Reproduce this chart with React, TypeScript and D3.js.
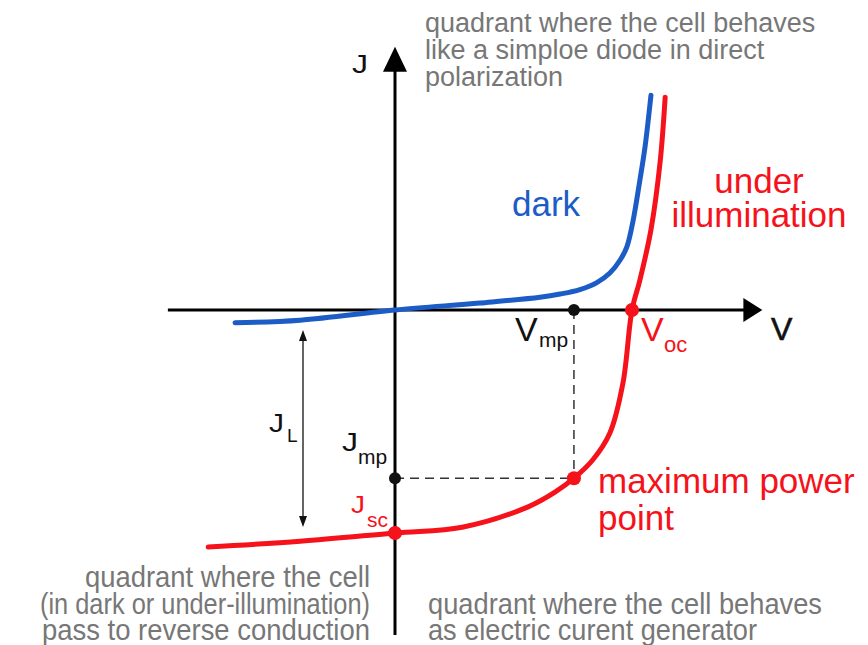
import React from "react";
import * as d3 from "d3";

// Dark J–V characteristic (V in volts, J in mA/cm²)
const darkV = [-0.405, -0.24, 0, 0.215, 0.367, 0.418, 0.468, 0.511, 0.544, 0.57, 0.587, 0.603, 0.62, 0.633, 0.648];
const darkJ = [-2.0, -1.6, 0, 1.1, 2.0, 2.5, 3.2, 4.3, 5.8, 7.85, 9.9, 14.1, 20.4, 25.6, 33.7];

// Illuminated J–V characteristic
const lightV = [-0.473, -0.24, 0, 0.17, 0.337, 0.405, 0.453, 0.501, 0.544, 0.577, 0.6, 0.62, 0.648, 0.671, 0.684];
const lightJ = [-37.2, -36.3, -35.0, -34.1, -30.9, -28.6, -26.4, -23.5, -19.3, -11.5, 0, 4.7, 12.6, 23.1, 33.4];

// Characteristic points
const Voc = 0.6;
const Vmp = 0.453;
const Jsc = -35.0;
const Jmp = -26.4;

// Axis extents (data units)
const vAxisExtent = [-0.575, 0.93];
const jAxisExtent = [-51, 41.3];

const topNote = ["quadrant where the cell behaves", "like a simploe diode in direct", "polarization"];
const leftNote = ["quadrant where the cell", "(in dark or under-illumination)", "pass to reverse conduction"];
const rightNote = ["quadrant where the cell behaves", "as electric curent generator"];

// condensed widths of the bottom notes
const leftNoteWidths = [285, 330, 328];
const rightNoteWidths = [394, 329];

const BLUE = "#1b5cc6";
const RED = "#f5121a";
const GRAY = "#777777";
const SANS = "'Liberation Sans', Arial, sans-serif";

const x = d3.scaleLinear().domain([0, 0.6]).range([395, 632]);
const y = d3.scaleLinear().domain([0, -35]).range([310, 533]);

const line = d3
  .line<[number, number]>()
  .x((d) => x(d[0]))
  .y((d) => y(d[1]))
  .curve(d3.curveCatmullRom.alpha(0.5));

const darkPath = line(darkV.map((v, i) => [v, darkJ[i]]));
const lightPath = line(lightV.map((v, i) => [v, lightJ[i]]));

// Letter J drawn a little wider than the regular glyph
function WideJ(props: { x: number; y: number; size: number; width: number; fill: string }) {
  return (
    <text x={props.x} y={props.y} fontSize={props.size} fill={props.fill} textLength={props.width} lengthAdjust="spacingAndGlyphs">
      J
    </text>
  );
}

export default function App() {
  const x0 = x(vAxisExtent[0]);
  const x1 = x(vAxisExtent[1]);
  const yOrigin = y(0);
  const xOrigin = x(0);
  const yTop = y(jAxisExtent[1]);
  const yBottom = y(jAxisExtent[0]);
  const ah = 19; // arrowhead length
  const aw = 12; // arrowhead half-width

  // J_L double arrow spans from just below the axis to the Jsc level
  const jlX = 303;
  const jlTop = y(0) + 20;
  const jlBot = y(Jsc) - 6;

  return (
    <svg
      width={868}
      height={645}
      style={{ position: "absolute", left: 0, top: 0, background: "#fff" }}
      fontFamily={SANS}
    >
      {/* axes */}
      <line x1={x0} y1={yOrigin} x2={x1 - ah + 2} y2={yOrigin} stroke="#000" strokeWidth={3} />
      <path d={`M${x1},${yOrigin} L${x1 - ah},${yOrigin - aw} L${x1 - ah},${yOrigin + aw} Z`} fill="#000" />
      <line x1={xOrigin} y1={yBottom} x2={xOrigin} y2={yTop + ah - 2} stroke="#000" strokeWidth={3} />
      <path d={`M${xOrigin},${yTop} L${xOrigin - aw},${yTop + ah + 6} L${xOrigin + aw},${yTop + ah + 6} Z`} fill="#000" />
      <WideJ x={352} y={73} size={26} width={16} fill="#111" />
      <text x={771} y={340} fontSize={32} fill="#111" stroke="#111" strokeWidth={0.6}>V</text>

      {/* dashed guides to the maximum power point */}
      <line x1={x(Vmp)} y1={y(0)} x2={x(Vmp)} y2={y(Jmp)} stroke="#333" strokeWidth={1.5} strokeDasharray="9,6" />
      <line x1={x(0)} y1={y(Jmp)} x2={x(Vmp)} y2={y(Jmp)} stroke="#333" strokeWidth={1.5} strokeDasharray="9,6" />

      {/* J_L arrow */}
      <line x1={jlX} y1={jlTop + 8} x2={jlX} y2={jlBot - 8} stroke="#111" strokeWidth={1.3} />
      <path d={`M${jlX},${jlTop} L${jlX - 4},${jlTop + 11} L${jlX + 4},${jlTop + 11} Z`} fill="#111" />
      <path d={`M${jlX},${jlBot} L${jlX - 4},${jlBot - 11} L${jlX + 4},${jlBot - 11} Z`} fill="#111" />

      {/* curves */}
      <path d={darkPath ?? ""} fill="none" stroke={BLUE} strokeWidth={5} strokeLinecap="round" />
      <path d={lightPath ?? ""} fill="none" stroke={RED} strokeWidth={5} strokeLinecap="round" />

      {/* characteristic points */}
      <circle cx={x(Vmp)} cy={y(0)} r={6} fill="#111" />
      <circle cx={x(0)} cy={y(Jmp)} r={6} fill="#111" />
      <circle cx={x(Voc)} cy={y(0)} r={7} fill={RED} />
      <circle cx={x(Vmp)} cy={y(Jmp)} r={7} fill={RED} />
      <circle cx={x(0)} cy={y(Jsc)} r={7} fill={RED} />

      {/* point labels */}
      <text x={515} y={341} fontSize={34} fill="#111">V</text>
      <text x={539} y={347} fontSize={21} fill="#111">mp</text>
      <text x={641} y={341} fontSize={34} fill={RED}>V</text>
      <text x={664} y={352} fontSize={22} fill={RED}>oc</text>
      <WideJ x={342} y={451} size={26} width={16} fill="#111" />
      <text x={358} y={464} fontSize={21} fill="#111">mp</text>
      <WideJ x={351} y={513} size={24} width={14} fill={RED} />
      <text x={367} y={527} fontSize={21} fill={RED}>sc</text>
      <WideJ x={269} y={432} size={25} width={15} fill="#111" />
      <text x={287} y={442} fontSize={19} fill="#111">L</text>

      {/* curve labels */}
      <text x={512} y={216} fontSize={35} fill={BLUE}>dark</text>
      <text x={759} y={193} fontSize={35} fill={RED} textAnchor="middle">under</text>
      <text x={759} y={227} fontSize={35} fill={RED} textAnchor="middle">illumination</text>
      <text x={598} y={493} fontSize={35} fill={RED}>maximum power</text>
      <text x={598} y={530} fontSize={35} fill={RED}>point</text>

      {/* quadrant notes */}
      {topNote.map((t, i) => (
        <text key={t} x={425} y={32 + i * 27} fontSize={27} fill={GRAY}>{t}</text>
      ))}
      {leftNote.map((t, i) => (
        <text
          key={t}
          x={370 - leftNoteWidths[i]}
          y={587 + i * 26.5}
          fontSize={30}
          fill={GRAY}
          textLength={leftNoteWidths[i]}
          lengthAdjust="spacingAndGlyphs"
        >
          {t}
        </text>
      ))}
      {rightNote.map((t, i) => (
        <text
          key={t}
          x={428}
          y={613.5 + i * 26.5}
          fontSize={30}
          fill={GRAY}
          textLength={rightNoteWidths[i]}
          lengthAdjust="spacingAndGlyphs"
        >
          {t}
        </text>
      ))}
    </svg>
  );
}
